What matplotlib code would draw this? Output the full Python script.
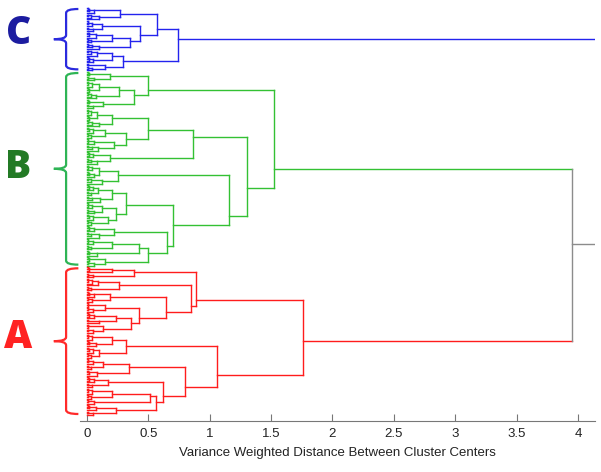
import matplotlib.pyplot as plt
from matplotlib.path import Path
from matplotlib.patches import PathPatch

# each tree node is (merge height, upper child, lower child);
# a list is a chain of leaves joined one after another at the listed heights
tree_c = (0.74,
          (0.57,
           (0.27, [0.005, 0.02, 0.06], [0.01, 0.03, 0.1]),
           (0.43, (0.12, [0.006, 0.01, 0.04], [0.012, 0.05]),
                  (0.35, (0.2, [0.008, 0.02, 0.07], [0.01, 0.03]), [0.005, 0.04, 0.1]))),
          (0.29,
           (0.2, [0.01, 0.03, 0.08], [0.006, 0.02, 0.05]),
           (0.15, [0.01], [0.012, 0.04])))

tree_b = (1.52,
          (0.50,
           (0.19, [0.008, 0.02], [0.01, 0.06]),
           (0.38,
            (0.26, (0.1, [0.005, 0.01, 0.04], [0.008, 0.02]), [0.01, 0.03, 0.07]),
            (0.13, [0.006, 0.02], [0.01, 0.05]))),
          (1.30,
           (0.86,
            (0.50,
             (0.20, (0.08, [0.005, 0.01, 0.03], [0.008, 0.02]), [0.012, 0.04, 0.1]),
             (0.32, (0.15, [0.006, 0.02, 0.05], [0.01, 0.03]),
                    (0.22, [0.005, 0.01, 0.06], [0.008, 0.04, 0.09]))),
            (0.19, [0.006, 0.02, 0.05], [0.01, 0.03, 0.08])),
           (1.16,
            (0.25, (0.1, [0.005, 0.01, 0.04], [0.008, 0.02, 0.06]), [0.01, 0.03, 0.12]),
            (0.70,
             (0.32,
              (0.2, (0.09, [0.006, 0.02, 0.05], [0.01, 0.03]), [0.008, 0.04, 0.11]),
              (0.24, (0.12, [0.005, 0.01, 0.04], [0.012, 0.06]),
                     (0.17, [0.006, 0.02, 0.05], [0.01, 0.03]))),
             (0.65,
              (0.22, [0.005, 0.02, 0.06], [0.01, 0.03, 0.1]),
              (0.50,
               (0.42, (0.2, [0.006, 0.01, 0.05], [0.008, 0.03]), [0.01, 0.02, 0.08]),
               (0.15, [0.005, 0.02], [0.01, 0.06])))))))

tree_a = (1.76,
          (0.89,
           (0.38, [0.006, 0.02, 0.2], [0.01, 0.05]),
           (0.85,
            (0.26, [0.005, 0.01, 0.04, 0.09], [0.008, 0.03]),
            (0.64,
             (0.19, [0.006, 0.02, 0.06], [0.01, 0.04]),
             (0.42,
              (0.15, [0.005, 0.01], [0.008, 0.05]),
              (0.36, (0.24, [0.006, 0.02, 0.06], [0.01, 0.1]),
                     (0.13, [0.005, 0.01], [0.012, 0.05])))))),
          (1.06,
           (0.32, (0.2, [0.005, 0.01, 0.04], [0.008, 0.02, 0.07]),
                  (0.1, [0.006, 0.02, 0.05], [0.01, 0.03])),
           (0.80,
            (0.34, (0.13, [0.005, 0.01, 0.05], [0.008, 0.03]), [0.01, 0.02, 0.08]),
            (0.62,
             (0.17, [0.006, 0.02, 0.06], [0.01, 0.04]),
             (0.56,
              (0.51, (0.2, [0.005, 0.01, 0.04], [0.008, 0.03]), [0.01, 0.06]),
              (0.24, [0.006, 0.02, 0.07], [0.01, 0.05]))))))

cluster_names = ['C', 'B', 'A']
line_colors = ['#2323ee', '#33c133', '#ff1c1c']
label_colors = ['#1c1ca0', '#237a25', '#ff2222']
brace_colors = ['#2a2add', '#2eb455', '#ff2a2a']
ab_height = 3.95
root_height = 4.6
gray = '#8c8c8c'
x_ticks = [0, 0.5, 1, 1.5, 2, 2.5, 3, 3.5, 4]
x_tick_labels = ['0', '0.5', '1', '1.5', '2', '2.5', '3', '3.5', '4']
x_label = 'Variance Weighted Distance Between Cluster Centers'

LW = 1.0
NARROW = ['Liberation Sans', 'DejaVu Sans']


def n_leaves(node):
    if isinstance(node, list):
        return len(node) + 1
    return n_leaves(node[1]) + n_leaves(node[2])


def link(ax, ya, ha, yb, hb, h, ca, cb, cv):
    ax.plot([ha, h], [ya, ya], color=ca, lw=LW)
    ax.plot([hb, h], [yb, yb], color=cb, lw=LW)
    ax.plot([h, h], [ya, yb], color=cv, lw=LW)


def draw(ax, node, first, color):
    if isinstance(node, list):
        ys = [first]
        y, h = first, 0.0
        for k, hk in enumerate(node):
            y_new = first + k + 1
            link(ax, y, h, y_new, 0.0, hk, color, color, color)
            ys.append(y_new)
            y, h = sum(ys) / len(ys), hk
        return y, h, ys
    h, a, b = node
    ya, ha, la = draw(ax, a, first, color)
    yb, hb, lb = draw(ax, b, first + len(la), color)
    link(ax, ya, ha, yb, hb, h, color, color, color)
    ys = la + lb
    return sum(ys) / len(ys), h, ys


def brace(ax, top, mid, bot, color, r):
    xh, xv, xn = -0.07, -0.17, -0.27
    verts = [(xh, top), (xv, top), (xv, top + r),
             (xv, mid - r), (xv, mid), (xn, mid),
             (xv, mid), (xv, mid + r),
             (xv, bot - r), (xv, bot), (xh, bot)]
    codes = [Path.MOVETO, Path.CURVE3, Path.CURVE3,
             Path.LINETO, Path.CURVE3, Path.CURVE3,
             Path.CURVE3, Path.CURVE3,
             Path.LINETO, Path.CURVE3, Path.CURVE3]
    ax.add_patch(PathPatch(Path(verts, codes), fill=False, edgecolor=color,
                           lw=1.6, clip_on=False))


def main():
    trees = [tree_c, tree_b, tree_a]
    total = sum(n_leaves(t) for t in trees)
    step = 407 / (total - 1)

    fig = plt.figure(figsize=(6.01, 4.72), dpi=100)
    ax = fig.add_axes([79.6 / 601, 1 - 421 / 472, 515.6 / 601, 417 / 472])

    first = 0
    tops = []
    for tree, color in zip(trees, line_colors):
        tops.append(draw(ax, tree, first, color))
        first += len(tops[-1][2])

    (yc, hc, lc), (yb, hb, lb), (ya, ha, la) = tops
    link(ax, yb, hb, ya, ha, ab_height, line_colors[1], line_colors[2], gray)
    y_ab = sum(lb + la) / len(lb + la)
    link(ax, yc, hc, y_ab, ab_height, root_height, line_colors[0], gray, gray)

    for (y, h, ls), bc in zip(tops, brace_colors):
        brace(ax, ls[0] + 1 / step, y, ls[-1] - 1 / step, bc, 4 / step)

    shifts = [-6, -1, -4]
    for name, (y, h, ls), lc_, sh in zip(cluster_names, tops, label_colors, shifts):
        ax.text(-0.56, y + sh / step, name, color=lc_, fontsize=28,
                fontweight=800, family=['Open Sans', 'DejaVu Sans'],
                ha='center', va='center', clip_on=False)

    ax.set_xlim(-0.06, 4.14)
    ax.set_ylim(413 / step, -4 / step)
    ax.set_xticks(x_ticks)
    ax.set_xticklabels(x_tick_labels, fontsize=9.5, color='#222222', family=NARROW)
    ax.set_yticks([])
    ax.set_xlabel(x_label, fontsize=9.5, color='#222222', labelpad=5, family=NARROW)
    for side in ['top', 'right', 'left']:
        ax.spines[side].set_visible(False)
    ax.spines['bottom'].set_color('#777777')
    ax.tick_params(axis='x', direction='in', length=5, color='#777777', pad=5)

    fig.savefig('out.png', dpi=100)


if __name__ == '__main__':
    main()
